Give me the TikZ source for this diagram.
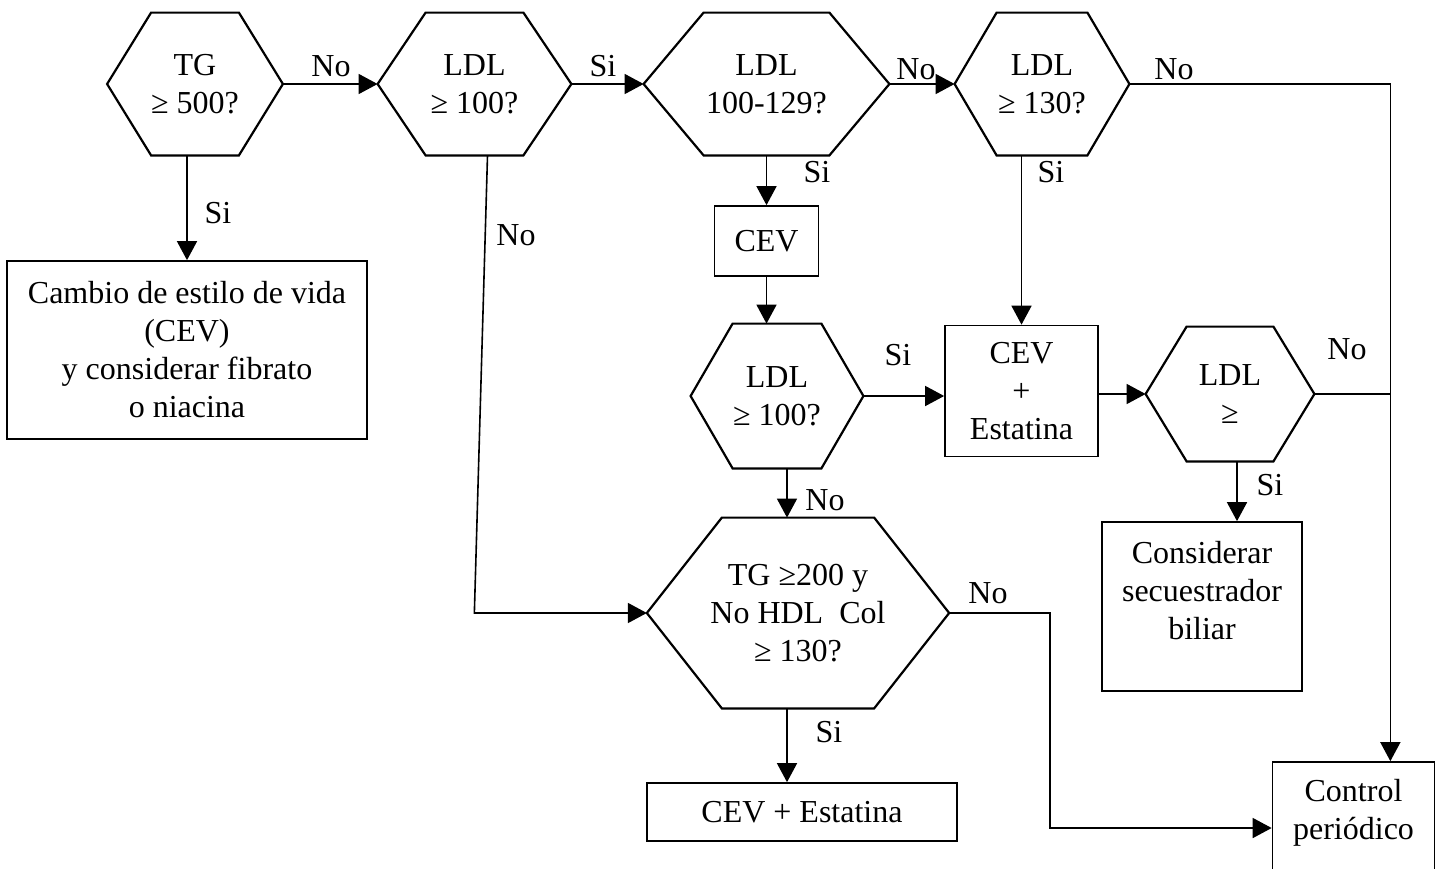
\documentclass[tikz,border=0pt]{standalone}
\usepackage{fontspec}
\setmainfont{Liberation Serif}
\usetikzlibrary{arrows.meta}
\begin{document}
\begin{tikzpicture}[x=0.5pt, y=-0.5pt, font=\fontsize{16}{19}\selectfont,
  >={Triangle[length=9.5pt,width=10pt]},
  hexa/.style={inner sep=0pt, align=center},
  hexline/.style={line width=1.1pt, line join=miter},
  box/.style={draw, line width=0.85pt, inner sep=0pt, align=center},
  link/.style={line width=0.8pt},
  lbl/.style={inner sep=0pt}]
  \useasboundingbox (0,0) rectangle (1444,868);

  % ---- decisions (outlines drawn further down) ------------------------------
  \node[hexa, minimum width=87.5pt, minimum height=71pt] (tg500) at (195,84) {TG\\≥ 500?};
  \node[hexa, minimum width=96.5pt, minimum height=71pt] (ldlA) at (474.5,84) {LDL\\≥ 100?};
  \node[hexa, minimum width=122.5pt, minimum height=71pt] (ldlB) at (766.5,84) {LDL\\100-129?};
  \node[hexa, minimum width=87pt, minimum height=71pt] (ldlC) at (1042,84) {LDL\\≥ 130?};
  \node[hexa, minimum width=86pt, minimum height=72pt] (ldlD) at (777,396) {LDL\\≥ 100?};
  \node[hexa, minimum width=84pt, minimum height=67pt] (ldlE) at (1230,394) {LDL\\≥};
  \node[hexa, minimum width=150.75pt, minimum height=95pt] (tg200) at (798,613)
    {TG ≥200 y\\No HDL~ Col\\≥ 130?};

  % ---- actions --------------------------------------------------------------
  \node[box, minimum width=180pt, minimum height=89pt] (cevVida) at (187,350)
    {Cambio de estilo de vida\\(CEV)\\y considerar fibrato\\o niacina};
  \node[box, minimum width=52pt, minimum height=35pt] (cevA) at (766.5,241) {CEV};
  \node[box, minimum width=76.5pt, minimum height=65.5pt] (cevEst) at (1021.5,391)
    {CEV\\+\\Estatina};
  \node[box, minimum width=100pt, minimum height=84.5pt] (secBil) at (1202,606.5)
    {Considerar\\secuestrador\\biliar\\[-2.5pt]\mbox{}};
  \node[box, minimum width=155pt, minimum height=29pt] (cevFin) at (802,812) {CEV + Estatina};
  \node[box, minimum width=81pt, minimum height=56pt] (ctrl) at (1353.5,818)
    {Control\\periódico\\[-10pt]\mbox{}};

  % hexagon outlines: node / corner cut
  \foreach \hx/\cut in {tg500/22pt, ldlA/24pt, ldlB/30pt, ldlC/21pt,
                        ldlD/21pt, ldlE/20.5pt, tg200/37.5pt}
    \draw[hexline] (\hx.west) -- ([xshift=\cut]\hx.north west)
      -- ([xshift=-\cut]\hx.north east) -- (\hx.east)
      -- ([xshift=-\cut]\hx.south east) -- ([xshift=\cut]\hx.south west) -- cycle;

  % ---- connectors -----------------------------------------------------------
  \coordinate (rail) at ([xshift=-22.5pt]ctrl.north east);
  \draw[link,->] (tg500.east) -- (ldlA.west);
  \draw[link,->] (ldlA.east) -- (ldlB.west);
  \draw[link,->] (ldlB.east) -- (ldlC.west);
  \draw[link,->] (ldlC.east) -| (rail);
  \draw[link] (ldlE.east) -- (ldlE.east -| rail);
  \draw[link,->] (tg500.south -| cevVida.north) -- (cevVida.north);
  \draw[link,->] ([xshift=6.5pt]ldlA.south) -- ([xshift=-86.25pt]tg200.west) -- (tg200.west);
  \draw[link,->] (ldlB.south) -- (cevA.north);
  \draw[link,->] (cevA.south) -- (cevA.south |- ldlD.north);
  \draw[link,->] (ldlD.east) -- (ldlD.east -| cevEst.west);
  \draw[link,->] (ldlC.south -| cevEst.north) -- (cevEst.north);
  \draw[link,->] (cevEst.east |- ldlE.west) -- (ldlE.west);
  \draw[link,->] ([xshift=3.5pt]ldlE.south) -- ([xshift=3.5pt]ldlE.south |- secBil.north);
  \draw[link,->] ([xshift=5pt]ldlD.south) -- ([xshift=5pt]ldlD.south |- tg200.north);
  \draw[link,->] ([xshift=-5.5pt]tg200.south) -- ([xshift=-5.5pt]tg200.south |- cevFin.north);
  \draw[link,->] (tg200.east) -- ++(101,0) |- ([yshift=-5pt]ctrl.west);

  % ---- answers --------------------------------------------------------------
  \node[lbl] (no1) at (331,66) {No};
  \node[lbl] (si1) at (218,213) {Si};
  \node[lbl] (si2) at (603,66) {Si};
  \node[lbl] (no2) at (516,235) {No};
  \node[lbl] (si3) at (817,172) {Si};
  \node[lbl] (no3) at (916,69) {No};
  \node[lbl] (si4) at (1051,172) {Si};
  \node[lbl] (no4) at (1174,69) {No};
  \node[lbl] (si5) at (898,355) {Si};
  \node[lbl] (no5) at (1347,349) {No};
  \node[lbl] (no6) at (825,500) {No};
  \node[lbl] (si6) at (1270,485) {Si};
  \node[lbl] (no7) at (988,593) {No};
  \node[lbl] (si7) at (829,732) {Si};
\end{tikzpicture}
\end{document}
